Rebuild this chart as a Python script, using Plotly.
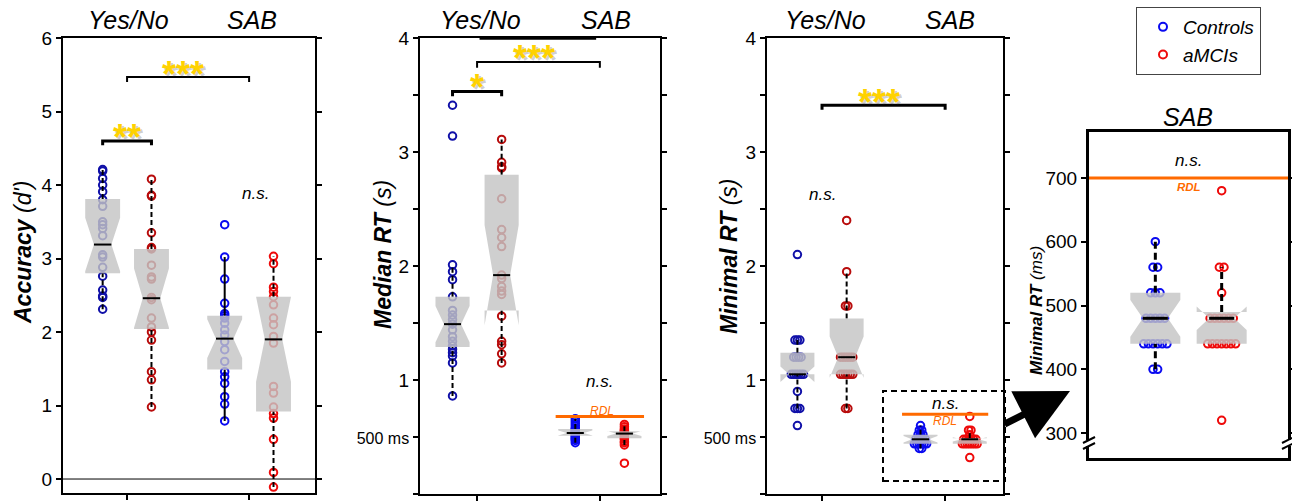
import numpy as np
import plotly.graph_objects as go

W, H = 1292, 504
FONT = "Liberation Sans, Arial, Helvetica, sans-serif"

# ---------------- data ----------------
conditions = ["Yes/No", "SAB"]
groups = ["Controls", "aMCIs"]

# Panel 1 : Accuracy (d')
acc_ctrl_yn = [4.21, 4.19, 4.09, 4.00, 3.91, 3.80, 3.71, 3.50, 3.46, 3.41, 3.31, 3.05, 3.02, 2.88, 2.76, 2.57, 2.49, 2.47, 2.31]
acc_amci_yn = [4.08, 3.86, 3.85, 3.35, 3.15, 3.13, 2.91, 2.75, 2.72, 2.47, 2.44, 2.19, 2.07, 2.00, 1.89, 1.46, 1.35, 0.98]
acc_ctrl_sab = [3.46, 3.02, 2.72, 2.39, 2.25, 2.22, 2.19, 2.12, 2.03, 1.96, 1.87, 1.76, 1.60, 1.46, 1.39, 1.30, 1.12, 1.02, 0.79]
acc_amci_sab = [3.03, 2.93, 2.61, 2.55, 2.48, 2.37, 2.19, 2.10, 1.94, 1.85, 1.26, 1.17, 0.98, 0.89, 0.83, 0.54, 0.09, -0.11]
acc_q1 = [2.80, 2.04, 1.49, 0.92]
acc_med = [3.19, 2.46, 1.91, 1.90]
acc_q3 = [3.81, 3.13, 2.22, 2.48]
acc_wlo = [2.31, 0.98, 0.79, -0.11]
acc_whi = [4.21, 4.08, 3.02, 3.03]

# Panel 2 : Median RT (s)
mrt_ctrl_yn = [3.41, 3.14, 2.01, 1.95, 1.88, 1.73, 1.61, 1.57, 1.53, 1.49, 1.44, 1.38, 1.34, 1.30, 1.27, 1.24, 1.21, 1.15, 0.86]
mrt_amci_yn = [3.11, 2.91, 2.87, 2.86, 2.59, 2.32, 2.25, 2.17, 1.92, 1.89, 1.82, 1.78, 1.75, 1.56, 1.34, 1.31, 1.23, 1.15]
mrt_ctrl_sab = [0.66, 0.64, 0.62, 0.60, 0.58, 0.57, 0.56, 0.55, 0.55, 0.54, 0.53, 0.53, 0.52, 0.51, 0.50, 0.49, 0.48, 0.47, 0.45]
mrt_amci_sab = [0.61, 0.59, 0.57, 0.56, 0.55, 0.54, 0.54, 0.53, 0.53, 0.52, 0.51, 0.50, 0.49, 0.48, 0.46, 0.45, 0.43, 0.27]
mrt_q1 = [1.29, 1.61, 0.51, 0.49]
mrt_med = [1.49, 1.92, 0.535, 0.53]
mrt_q3 = [1.73, 2.80, 0.57, 0.55]
mrt_wlo = [0.86, 1.15, 0.45, 0.43]
mrt_whi = [2.01, 3.11, 0.66, 0.61]
mrt_rdl = 0.68

# Panel 3 : Minimal RT (s), Yes/No
min_ctrl_yn = [2.10, 1.35, 1.35, 1.35, 1.20, 1.20, 1.20, 1.20, 1.05, 1.05, 1.05, 1.05, 1.05, 1.05, 0.90, 0.75, 0.75, 0.75, 0.60]
min_amci_yn = [2.40, 1.95, 1.65, 1.65, 1.20, 1.20, 1.20, 1.20, 1.20, 1.20, 1.05, 1.05, 1.05, 1.05, 1.05, 1.05, 0.75, 0.75]
min_yn_q1 = [1.05, 1.05]
min_yn_med = [1.05, 1.20]
min_yn_q3 = [1.24, 1.54]
min_yn_wlo = [0.75, 0.75]
min_yn_whi = [1.35, 1.95]

# Panel 4 (and SAB part of panel 3) : Minimal RT (ms), SAB
min_ms_ctrl_sab = [600, 560, 560, 520, 520, 520, 480, 480, 480, 480, 480, 440, 440, 440, 440, 440, 440, 400, 400]
min_ms_amci_sab = [680, 560, 560, 520, 480, 480, 480, 480, 480, 480, 440, 440, 440, 440, 440, 440, 440, 320]
min_ms_q1 = [440, 440]
min_ms_med = [480, 480]
min_ms_q3 = [520, 490]
min_ms_wlo = [400, 440]
min_ms_whi = [600, 560]
rdl_ms = 700

# ---------------- helpers ----------------
BLUE_D, RED_D = "#1010a8", "#b80c0c"
BLUE, RED = "#0a0af0", "#ee0a0a"
BOX_FILL = "rgba(196,196,196,0.82)"
GOLD = "#ffd200"
ORANGE = "#ff6a00"

fig = go.Figure()


def ax_names(n):
    return ("x" if n == 1 else f"x{n}"), ("y" if n == 1 else f"y{n}")


def spread(vals, center, step):
    xs = [center] * len(vals)
    if step:
        idx = {}
        for i, v in enumerate(vals):
            idx.setdefault(v, []).append(i)
        for v, ii in idx.items():
            m = len(ii)
            for k, i in enumerate(ii):
                xs[i] = center + (k - (m - 1) / 2) * step
    return xs


def draw_panel(n, series, positions, q1, med, q3, wlo, whi, half_w, colors,
               dashes, wlw, step, msize=7.5):
    xa, ya = ax_names(n)
    for vals, c, col in zip(series, positions, colors):
        fig.add_trace(go.Scatter(
            x=spread(vals, c, step), y=vals, mode="markers", xaxis=xa, yaxis=ya,
            marker=dict(symbol="circle-open", size=msize, color=col, line=dict(width=2, color=col)),
            showlegend=False, hoverinfo="skip"))
    for i, c in enumerate(positions):
        fig.add_trace(go.Scatter(
            x=[c, c, None, c, c], y=[wlo[i], q1[i], None, q3[i], whi[i]], mode="lines",
            xaxis=xa, yaxis=ya, line=dict(color="black", width=wlw, dash=dashes[i]),
            showlegend=False, hoverinfo="skip"))
    for i, c in enumerate(positions):
        nn = len(series[i])
        ns = 1.57 * (q3[i] - q1[i]) / np.sqrt(nn)
        lo, hi = med[i] - ns, med[i] + ns
        nw = half_w * 0.5
        bx = [c - half_w, c - half_w, c - nw, c - half_w, c - half_w, c + half_w, c + half_w,
              c + nw, c + half_w, c + half_w, c - half_w]
        by = [q1[i], lo, med[i], hi, q3[i], q3[i], hi, med[i], lo, q1[i], q1[i]]
        fig.add_trace(go.Scatter(
            x=bx, y=by, mode="lines", fill="toself", fillcolor=BOX_FILL,
            line=dict(width=0, color="rgba(0,0,0,0)"), xaxis=xa, yaxis=ya,
            showlegend=False, hoverinfo="skip"))
        fig.add_trace(go.Scatter(
            x=[c - nw, c + nw], y=[med[i], med[i]], mode="lines", xaxis=xa, yaxis=ya,
            line=dict(color="black", width=wlw), showlegend=False, hoverinfo="skip"))


pos4 = [0.8, 1.2, 1.8, 2.2]
DASH = "5px,3px"

draw_panel(1, [acc_ctrl_yn, acc_amci_yn, acc_ctrl_sab, acc_amci_sab], pos4,
           acc_q1, acc_med, acc_q3, acc_wlo, acc_whi, 0.143,
           [BLUE_D, RED_D, BLUE, RED], [DASH, DASH, "solid", DASH], 2, 0)

draw_panel(2, [mrt_ctrl_yn, mrt_amci_yn, mrt_ctrl_sab, mrt_amci_sab], pos4,
           mrt_q1, mrt_med, mrt_q3, mrt_wlo, mrt_whi, 0.139,
           [BLUE_D, RED_D, BLUE, RED], [DASH] * 4, 2, 0)

min_s_ctrl_sab = [v / 1000 for v in min_ms_ctrl_sab]
min_s_amci_sab = [v / 1000 for v in min_ms_amci_sab]
draw_panel(3, [min_ctrl_yn, min_amci_yn, min_s_ctrl_sab, min_s_amci_sab], pos4,
           min_yn_q1 + [v / 1000 for v in min_ms_q1],
           min_yn_med + [v / 1000 for v in min_ms_med],
           min_yn_q3 + [v / 1000 for v in min_ms_q3],
           min_yn_wlo + [v / 1000 for v in min_ms_wlo],
           min_yn_whi + [v / 1000 for v in min_ms_whi], 0.138,
           [BLUE_D, RED_D, BLUE, RED], [DASH] * 4, 2, 0.02)

draw_panel(4, [min_ms_ctrl_sab, min_ms_amci_sab], [1, 2],
           min_ms_q1, min_ms_med, min_ms_q3, min_ms_wlo, min_ms_whi, 0.377,
           [BLUE, RED], ["7px,4px"] * 2, 3, 0.07, msize=7.5)

for g, col in zip(groups, [BLUE, RED]):
    fig.add_trace(go.Scatter(x=[None], y=[None], mode="markers", name=g,
                             marker=dict(symbol="circle-open", size=8, color=col,
                                         line=dict(width=2, color=col))))

# ---------------- axes ----------------
MS = "<span style='font-size:16px'>500 ms</span>"
panels = [
    dict(n=1, px=(63, 315), py=(38, 493), xr=[0.475, 2.54], yr=[-0.19, 6.0], lw=2,
         yt=[0, 1, 2, 3, 4, 5, 6], ytt=["0", "1", "2", "3", "4", "5", "6"], xt=[1, 2]),
    dict(n=2, px=(420, 660), py=(38, 494), xr=[0.535, 2.49], yr=[0, 4], lw=2,
         yt=[0, 0.5, 1, 1.5, 2, 2.5, 3, 3.5, 4],
         ytt=["0", MS, "1", "", "2", "", "3", "", "4"], xt=[1, 2]),
    dict(n=3, px=(767, 1003), py=(38, 494), xr=[0.553, 2.47], yr=[0, 4], lw=2,
         yt=[0, 0.5, 1, 1.5, 2, 2.5, 3, 3.5, 4],
         ytt=["0", MS, "1", "", "2", "", "3", "", "4"], xt=[1, 2]),
    dict(n=4, px=(1089, 1288), py=(132, 458), xr=[0, 3], yr=[261, 772], lw=3,
         yt=[300, 400, 500, 600, 700], ytt=["300", "400", "500", "600", "700"], xt=[]),
]

layout_axes = {}
for p in panels:
    n = p["n"]
    xk = "xaxis" if n == 1 else f"xaxis{n}"
    yk = "yaxis" if n == 1 else f"yaxis{n}"
    xa, ya = ax_names(n)
    common = dict(showline=True, linecolor="black", linewidth=p["lw"], showgrid=False,
                  zeroline=False, ticklen=5, tickwidth=1.5, tickcolor="black", automargin=False,
                  tickfont=dict(size=19, family=FONT, color="black"), fixedrange=True)
    layout_axes[xk] = dict(common, domain=[p["px"][0] / W, p["px"][1] / W], range=p["xr"],
                           anchor=ya, mirror=True, tickvals=p["xt"], ticktext=["" for _ in p["xt"]],
                           ticks="outside" if p["xt"] else "", showticklabels=False)
    layout_axes[yk] = dict(common, domain=[1 - p["py"][1] / H, 1 - p["py"][0] / H], range=p["yr"],
                           anchor=xa, mirror="ticks", tickvals=p["yt"], ticktext=p["ytt"],
                           ticks="outside")

fig.update_layout(**layout_axes)

# ---------------- annotations & shapes ----------------
ann = []
shapes = []


def txt(text, x, y, xref, yref, size, color="black", **kw):
    d = dict(text=text, x=x, y=y, xref=xref, yref=yref, showarrow=False,
             xanchor="center", yanchor="middle",
             font=dict(size=size, color=color, family=FONT))
    d.update(kw)
    ann.append(d)


for (x, t) in [(128, "Yes/No"), (252, "SAB"), (480, "Yes/No"), (606, "SAB"),
               (825, "Yes/No"), (950, "SAB")]:
    txt(f"<i>{t}</i>", x / W, 1 - 20 / H, "paper", "paper", 25)
txt("<i>SAB</i>", 1188 / W, 1 - 117 / H, "paper", "paper", 25)

txt("<b><i>Accuracy</i></b><i> (d')</i>", 23 / W, 1 - 253 / H, "paper", "paper", 23, textangle=-90)
txt("<b><i>Median RT</i></b><i> (s)</i>", 383 / W, 1 - 255 / H, "paper", "paper", 23, textangle=-90)
txt("<b><i>Minimal RT</i></b><i> (s)</i>", 729 / W, 1 - 257 / H, "paper", "paper", 23, textangle=-90)
txt("<b><i>Minimal RT</i></b><i> (ms)</i>", 1036 / W, 1 - 311 / H, "paper", "paper", 17, textangle=-90)

brackets = [
    (1, 0.8, 1.2, 4.60, 0.06, 3, "**", 1.0, 4.71),
    (1, 1.0, 2.0, 5.47, 0.07, 2, "***", 1.46, 5.57),
    (2, 0.8, 1.2, 3.53, 0.04, 3, "*", 1.0, 3.61),
    (2, 1.0, 2.0, 3.79, 0.05, 2, "***", 1.46, 3.86),
    (3, 1.0, 2.0, 3.41, 0.04, 3, "***", 1.46, 3.48),
]
for (n, x0, x1, y, d, w, s, sx, sy) in brackets:
    xa, ya = ax_names(n)
    shapes.append(dict(type="path", xref=xa, yref=ya,
                       path=f"M {x0},{y - d} L {x0},{y} L {x1},{y} L {x1},{y - d}",
                       line=dict(color="black", width=w)))
    txt(f"<b>{s}</b>", sx, sy, xa, ya, 36, color="rgba(90,90,90,0.3)", yshift=-7, xshift=2)
    txt(f"<b>{s}</b>", sx, sy, xa, ya, 36, color=GOLD, yshift=-5)

txt("<i>n.s.</i>", 2.05, 3.89, "x", "y", 17)
txt("<i>n.s.</i>", 2.0, 0.99, "x2", "y2", 17)
txt("<i>n.s.</i>", 1.0, 2.63, "x3", "y3", 17)
txt("<i>n.s.</i>", 2.0, 0.79, "x3", "y3", 17)
txt("<i>n.s.</i>", 1.5, 727, "x4", "y4", 17)

shapes.append(dict(type="line", xref="x2", yref="y2", x0=1.64, x1=2.36, y0=mrt_rdl, y1=mrt_rdl,
                   line=dict(color=ORANGE, width=3)))
txt("<i>RDL</i>", 2.02, 0.73, "x2", "y2", 12, color=ORANGE)
shapes.append(dict(type="line", xref="x3", yref="y3", x0=1.65, x1=2.35, y0=rdl_ms / 1000, y1=rdl_ms / 1000,
                   line=dict(color=ORANGE, width=3)))
txt("<i>RDL</i>", 2.0, 0.64, "x3", "y3", 12, color=ORANGE)
shapes.append(dict(type="line", xref="x4 domain", yref="y4", x0=0, x1=1, y0=rdl_ms, y1=rdl_ms,
                   line=dict(color=ORANGE, width=3)))
txt("<b><i>RDL</i></b>", 1.5, 686, "x4", "y4", 11.5, color=ORANGE)

shapes.append(dict(type="line", xref="x domain", yref="y", x0=0, x1=1, y0=0, y1=0,
                   line=dict(color="black", width=1)))
shapes.append(dict(type="line", xref="x2", yref="paper", x0=1.02, x1=1.97, y0=1 - 38 / H, y1=1 - 38 / H,
                   line=dict(color="black", width=3.5)))

shapes.append(dict(type="rect", xref="paper", yref="paper", x0=883 / W, x1=1005 / W,
                   y0=1 - 481 / H, y1=1 - 391 / H, line=dict(color="black", width=2, dash="6px,4px")))

for ex in (1089, 1288):
    shapes.append(dict(type="rect", xref="paper", yref="paper", x0=(ex - 4) / W, x1=(ex + 4) / W,
                       y0=1 - 446 / H, y1=1 - 440 / H, fillcolor="white", line=dict(width=0)))
    for yy in (440, 446):
        shapes.append(dict(type="line", xref="paper", yref="paper", x0=(ex - 6) / W, x1=(ex + 6) / W,
                           y0=1 - (yy + 3) / H, y1=1 - (yy - 3) / H, line=dict(color="black", width=2)))

ann.append(dict(x=1070 / W, y=1 - 391 / H, xref="paper", yref="paper", text="", showarrow=True,
                ax=-67, ay=34, arrowhead=2, arrowsize=1.5, arrowwidth=7, arrowcolor="black"))

fig.update_layout(
    width=W, height=H, autosize=False,
    margin=dict(l=0, r=0, t=0, b=0, autoexpand=False),
    paper_bgcolor="white", plot_bgcolor="white",
    font=dict(family=FONT, color="black"),
    annotations=ann, shapes=shapes,
    showlegend=True,
    legend=dict(x=1136 / W, y=1 - 7 / H, xanchor="left", yanchor="top", indentation=6,
                bordercolor="#444", borderwidth=1, bgcolor="white", tracegroupgap=0,
                font=dict(size=19, family=FONT, color="black", style="italic")),
)

POST = ("document.documentElement.style.margin='0';document.body.style.margin='0';"
        "document.body.style.padding='0';document.body.style.overflow='hidden';"
        "document.documentElement.style.overflow='hidden';"
        "var gd=document.getElementById('{plot_id}');gd.style.position='fixed';"
        "gd.style.left='0px';gd.style.top='0px';")

fig.write_html("out.html", post_script=POST, config={"displayModeBar": False})
